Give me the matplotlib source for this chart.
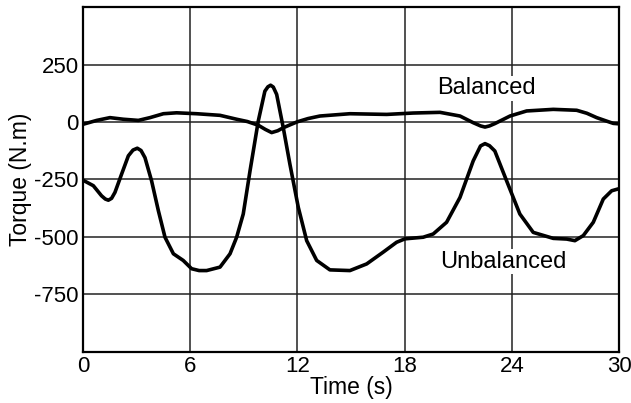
import matplotlib
matplotlib.use("Agg")
import matplotlib.pyplot as plt

plt.rcParams['font.family'] = ['Liberation Sans', 'DejaVu Sans']

# balanced rotor torque
t_bal = [0, 0.77, 1.51, 2.26, 3.1, 3.75, 4.5, 5.24, 6.36, 7.67, 8.6, 9.2, 9.81,
         10.2, 10.56, 10.9, 11.21, 11.6, 12, 12.6, 13.26, 14.94, 17, 18.48,
         19.98, 21.1, 21.84, 22.25, 22.5, 22.75, 23.05, 23.9, 24.83, 26.32,
         27.63, 28.2, 28.75, 29.3, 29.68, 30]
tq_bal = [-10, 7, 19, 12, 7, 19, 36, 40, 36, 29, 12, 2, -14,
          -32, -46, -38, -25, -12, 1, 15, 26, 36, 33, 39,
          42, 26, -3, -17, -22, -17, -7, 26, 48, 55,
          51, 38, 19, 4, -6, -8]

# unbalanced rotor torque
t_unb = [0, 0.58, 1.04, 1.25, 1.42, 1.6, 1.79, 2.16, 2.54, 2.8, 3.04, 3.25,
         3.47, 3.84, 4.22, 4.59, 5.06, 5.61, 6.08, 6.5, 6.92, 7.67, 8.23, 8.6,
         8.97, 9.35, 9.81, 10.18, 10.35, 10.5, 10.65, 10.84, 11.21, 11.58,
         12.05, 12.52, 13.08, 13.82, 14.94, 15.88, 16.8, 17.55, 18.02, 19.04,
         19.6, 20.35, 21.1, 21.84, 22.25, 22.5, 22.75, 23.05, 23.71, 24.45,
         25.2, 26.32, 27.07, 27.53, 28.0, 28.56, 29.12, 29.59, 30]
tq_unb = [-253, -277, -321, -335, -340, -332, -306, -227, -147, -122, -114,
          -124, -155, -256, -386, -501, -573, -602, -638, -646, -646, -631,
          -573, -501, -400, -212, 4, 134, 153, 160, 152, 120, -25, -183,
          -371, -516, -602, -643, -646, -617, -566, -523, -508, -501,
          -487, -436, -328, -169, -104, -94, -103, -126, -256, -400,
          -480, -506, -509, -516, -494, -436, -335, -299, -290]

xticks = [0, 6, 12, 18, 24, 30]
yticks = [-1000, -750, -500, -250, 0, 250, 500]
ylabels = ['', '-750', '-500', '-250', '0', '250', '']

fig = plt.figure(figsize=(6.31, 4.03), dpi=100)
ax = fig.add_axes([0.1315, 0.1266, 0.8495, 0.856])

ax.plot(t_bal, tq_bal, color='black', lw=2.6, solid_joinstyle='round')
ax.plot(t_unb, tq_unb, color='black', lw=2.6, solid_joinstyle='round')

ax.set_xlim(0, 30)
ax.set_ylim(-1000, 500)
ax.set_xticks(xticks)
ax.set_yticks(yticks)
ax.set_yticklabels(ylabels)
ax.grid(True, color='#222222', lw=1.1)
ax.set_axisbelow(True)
ax.tick_params(length=0, labelsize=16, pad=3)
for s in ax.spines.values():
    s.set_linewidth(1.6)

ax.set_xlabel('Time (s)', fontsize=16.5, labelpad=-1)
ax.set_ylabel('Torque (N.m)', fontsize=16.5, labelpad=2)

box = dict(facecolor='white', edgecolor='none', pad=1)
ax.text(22.6, 147, 'Balanced', fontsize=17, ha='center', va='center', bbox=box)
ax.text(23.5, -607, 'Unbalanced', fontsize=17, ha='center', va='center', bbox=box)

fig.savefig('out.png', dpi=100)
